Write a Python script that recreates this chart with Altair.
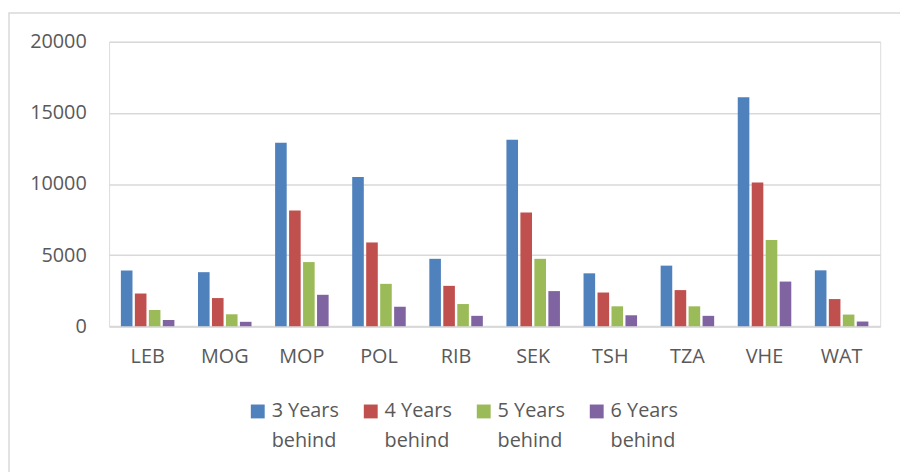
import altair as alt
import pandas as pd

stations = ["LEB", "MOG", "MOP", "POL", "RIB", "SEK", "TSH", "TZA", "VHE", "WAT"]
series = ["3 Years behind", "4 Years behind", "5 Years behind", "6 Years behind"]
y3 = [3910, 3800, 12900, 10490, 4740, 13120, 3720, 4260, 16100, 3930]
y4 = [2300, 1980, 8140, 5890, 2840, 8000, 2370, 2540, 10100, 1910]
y5 = [1140, 840, 4510, 2980, 1560, 4740, 1400, 1400, 6070, 820]
y6 = [440, 310, 2210, 1370, 730, 2470, 770, 730, 3140, 330]
colors = ["#4F81BD", "#C0504D", "#9BBB59", "#8064A2"]
y_ticks = [0, 5000, 10000, 15000, 20000]

rows = []
for s, vals in zip(series, [y3, y4, y5, y6]):
    for st, v in zip(stations, vals):
        rows.append({"station": st, "series": s, "value": v})
df = pd.DataFrame(rows)

FONT = "Open Sans"
TXT = "#595959"
NB = "\u00a0"

bars = alt.Chart(df).mark_bar().encode(
    x=alt.X(
        "station:N", sort=stations,
        scale=alt.Scale(paddingInner=0.275, paddingOuter=0.1375),
        axis=alt.Axis(title=None, labelAngle=0, ticks=False, domainColor="#D9D9D9",
                      domainWidth=2, labelPadding=21, labelFontSize=20,
                      labelColor=TXT, labelFont=FONT),
    ),
    xOffset=alt.XOffset("series:N", sort=series,
                        scale=alt.Scale(paddingInner=0.17, paddingOuter=0.085)),
    y=alt.Y(
        "value:Q",
        scale=alt.Scale(domain=[0, 20000], nice=False),
        axis=alt.Axis(title=None, values=y_ticks, format="d", ticks=False, domain=False,
                      labelPadding=23, labelFontSize=20, labelColor=TXT, labelFont=FONT,
                      gridColor="#D9D9D9", gridWidth=1.5),
    ),
    color=alt.Color(
        "series:N", sort=series,
        scale=alt.Scale(domain=series, range=colors),
        legend=alt.Legend(
            title=None, orient="none", legendX=140, legendY=363,
            direction="horizontal", columns=4, symbolType="square", symbolSize=196,
            symbolStrokeWidth=0, labelFontSize=20, labelFont=FONT, labelColor=TXT,
            labelExpr="[slice(datum.label, 0, 7), '" + NB * 2 + "behind']",
            columnPadding=22, labelOffset=4, labelLimit=300,
        ),
    ),
)

border = alt.Chart(alt.Data(values=[{"a": 1}])).mark_rect(
    fill="transparent", stroke="#D9D9D9", strokeWidth=1.5
).encode(
    x=alt.value(-101), x2=alt.value(830), y=alt.value(-29), y2=alt.value(470)
)

chart = alt.layer(border, bars).properties(
    width=778, height=287,
    autosize=alt.AutoSizeParams(type="none"),
    padding={"left": 102, "top": 32, "right": 20, "bottom": 145},
).configure_view(stroke=None).configure(
    background="white",
    style={"guide-label": {"lineHeight": 30}},
)

chart.save("out.html", embed_options={"renderer": "svg", "actions": False})
